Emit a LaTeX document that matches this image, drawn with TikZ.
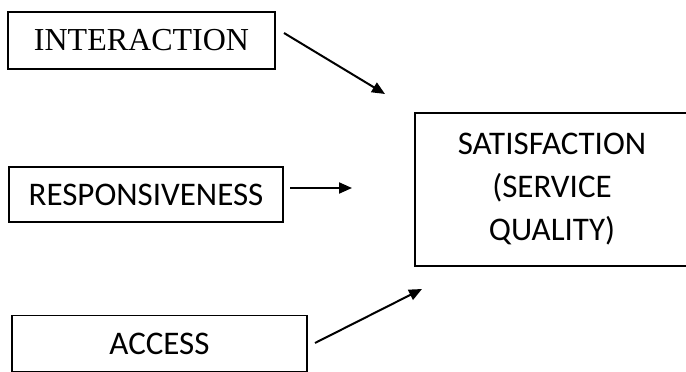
\documentclass[tikz,border=0pt]{standalone}
\usepackage{fontspec}
\setmainfont{Carlito}
\newfontfamily\timesfont{Liberation Serif}
\usetikzlibrary{arrows.meta}
\begin{document}
\begin{tikzpicture}[x=1pt,y=-1pt,
  box/.style={draw=black,line width=1.4pt,rectangle,inner sep=0pt,align=center,
    font=\fontsize{33}{43}\selectfont},
  conn/.style={line width=2pt,-{Triangle[length=13pt,width=11pt]}}]
\useasboundingbox (0,0) rectangle (686,372);
\node[box,minimum width=267pt,minimum height=57pt,font=\timesfont\fontsize{32}{38}\selectfont] (int) at (141.5,40.5) {INTERACTION};
\node[box,minimum width=274pt,minimum height=55pt] (resp) at (146,194.5) {RESPONSIVENESS};
\node[box,minimum width=295pt,minimum height=56pt] (acc) at (159.5,343.5) {ACCESS};
\node[box,minimum width=274pt,minimum height=153pt] (sat) at (552,189.5) {SATISFACTION\\(SERVICE\\QUALITY)};
\coordinate (s1) at (284,33);
\coordinate (e1) at (385,94);
\coordinate (s2) at (290,188);
\coordinate (e2) at (352,188);
\coordinate (s3) at (315,343);
\coordinate (e3) at (422,289);
\draw[conn] (s1) -- (e1);
\draw[conn] (s2) -- (e2);
\draw[conn] (s3) -- (e3);
\end{tikzpicture}
\end{document}
